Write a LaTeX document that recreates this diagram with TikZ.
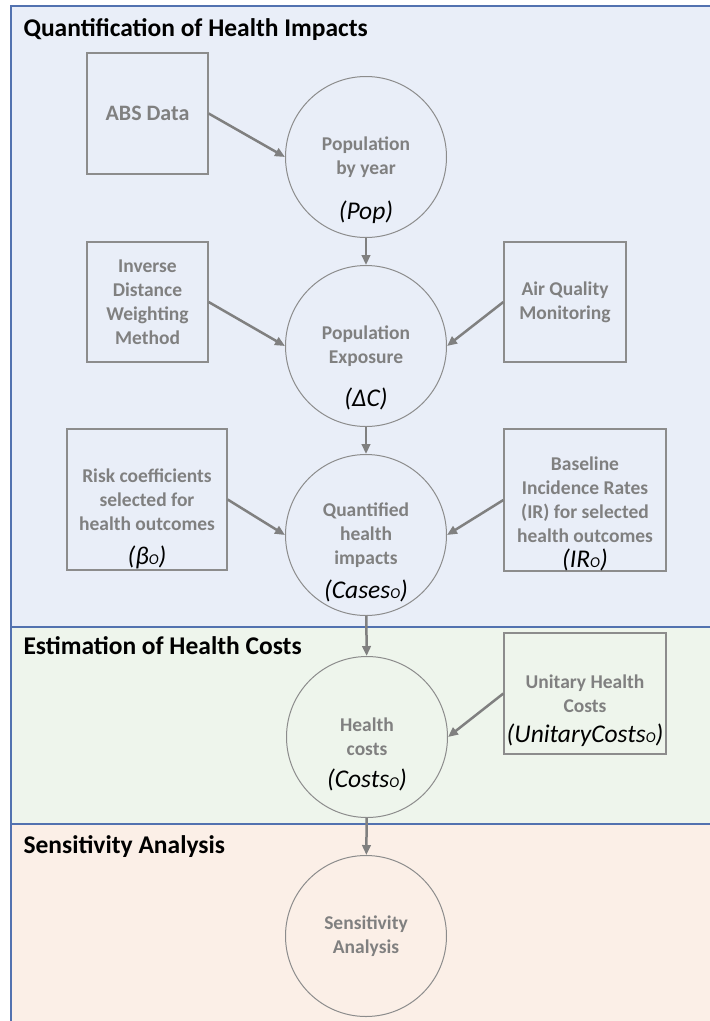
\documentclass[tikz,border=0pt]{standalone}
\usepackage{fontspec}
\setmainfont{Carlito}
\usepackage{tikz}
\usetikzlibrary{arrows.meta,positioning,calc}
\definecolor{bandblue}{RGB}{233,238,248}
\definecolor{bandgreen}{RGB}{238,245,236}
\definecolor{bandpeach}{RGB}{251,239,231}
\definecolor{edgeblue}{RGB}{82,114,176}
\definecolor{linegray}{RGB}{140,140,140}
\definecolor{textgray}{RGB}{128,128,128}
\newcommand{\subo}{{\fontsize{15}{15}\selectfont O}}

\begin{document}
\begin{tikzpicture}[x=1pt,y=-1pt,
  band/.style={draw=edgeblue,line width=1.5pt},
  heading/.style={anchor=base west,font=\fontsize{25.5}{30}\selectfont\bfseries},
  stage/.style={circle,draw=linegray,line width=1pt,minimum size=161pt,inner sep=0pt,align=center,text=textgray,font=\fontsize{19.5}{24}\selectfont\bfseries},
  source/.style={rectangle,draw=linegray,line width=1.3pt,inner sep=0pt,align=center,text=textgray,font=\fontsize{19.5}{24}\selectfont\bfseries},
  sym/.style={inner sep=0pt,font=\fontsize{25.5}{30}\selectfont\itshape},
  flow/.style={-{Triangle[length=10pt,width=8.5pt]},line width=2.5pt,draw=textgray}]
\useasboundingbox (0,0) rectangle (710,1021);
\clip (0,0) rectangle (710,1021);
% three bands
\draw[band,fill=bandblue] (11,6) rectangle (740,627);
\draw[band,fill=bandgreen] (11,627) rectangle (740,824);
\draw[band,fill=bandpeach] (11,824) rectangle (740,1060);
\node[heading] (qhead) at (20,36) {Quantification of Health Impacts};
\node[heading] (ehead) at (20,654) {Estimation of Health Costs};
\node[heading] (shead) at (20,853) {Sensitivity Analysis};
% stages
\node[stage] (pop) at (366,157) {Population\\by year};
\node[stage] (expo) at (366,346) {Population\\Exposure};
\node[stage] (cases) at (366,535) {Quantified\\health\\impacts};
\node[stage] (costs) at (367,737) {Health\\costs};
\node[stage] (sens) at (366,936) {Sensitivity\\Analysis};
\node[sym] (popsym) at ($(pop)+(0,55)$) {(Pop)};
\node[sym] (exposym) at ($(expo)+(0,53)$) {(ΔC)};
\node[sym] (casessym) at ($(cases)+(0,56)$) {(Cases\subo)};
\node[sym] (costssym) at ($(costs)+(0,43)$) {(Costs\subo)};
% inputs
\node[source,minimum width=121pt,minimum height=121pt,font=\fontsize{22}{26}\selectfont\bfseries] (abs) at (147.5,113.5) {ABS Data};
\node[source,minimum width=121pt,minimum height=120pt] (idw) at (147.5,302) {Inverse\\Distance\\Weighting\\Method};
\node[source,minimum width=122pt,minimum height=120pt] (aqm) at (565,302) {Air Quality\\Monitoring};
\node[source,minimum width=160pt,minimum height=141pt] (risk) at (147,499.5) {Risk coefficients\\selected for\\health outcomes};
\node[source,minimum width=162pt,minimum height=142pt] (rate) at (585,500) {Baseline\\Incidence Rates\\(IR) for selected\\health outcomes};
\node[source,minimum width=162pt,minimum height=121pt] (unit) at (585,693.5) {Unitary Health\\Costs};
\node[sym] (risksym) at ($(risk)+(0,57.5)$) {(β\subo)};
\node[sym] (ratesym) at ($(rate)+(0,60)$) {(IR\subo)};
\node[sym] (unitsym) at ($(unit)+(0,41.5)$) {(UnitaryCosts\subo)};
% connectors
\draw[flow] (abs.east) -- (pop.west);
\draw[flow] (pop) -- (expo);
\draw[flow] (idw.east) -- (expo.west);
\draw[flow] (aqm.west) -- (expo.east);
\draw[flow] (expo) -- (cases);
\draw[flow] (risk.east) -- (cases.west);
\draw[flow] (rate.west) -- (cases.east);
\draw[flow] (cases) -- (costs);
\draw[flow] (unit.west) -- (costs.east);
\draw[flow] (costs) -- (sens);
\end{tikzpicture}
\end{document}
